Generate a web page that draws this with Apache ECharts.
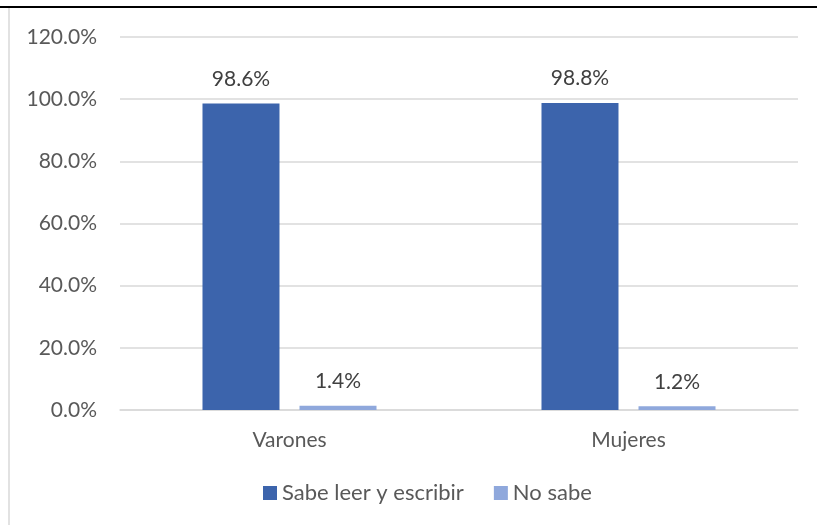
<!DOCTYPE html>
<html><head><meta charset="utf-8">
<script src="https://cdn.jsdelivr.net/npm/echarts@6/dist/echarts.min.js"></script>
<style>html,body{margin:0;padding:0;background:#fff}#c{width:817px;height:525px}</style>
</head><body><div id="c"></div>
<script>
const categories = ['Varones', 'Mujeres'];
const seriesNames = ['Sabe leer y escribir', 'No sabe'];
const sabeLeer = [98.6, 98.8];
const noSabe = [1.4, 1.2];
const yTicks = [0, 20, 40, 60, 80, 100, 120];

const chart = echarts.init(document.getElementById('c'));
const font = 'Lato, "Open Sans", sans-serif';
const lbl = {show: true, position: 'top', distance: 14, color: '#404040', fontSize: 21, fontFamily: font,
  formatter: p => p.value.toFixed(1) + '%'};
chart.setOption({
  animation: false,
  graphic: [
    {type: 'line', shape: {x1: 0, y1: 7, x2: 817, y2: 7}, style: {stroke: '#000', lineWidth: 2}},
    {type: 'line', shape: {x1: 9, y1: 8, x2: 9, y2: 525}, style: {stroke: '#d9d9d9', lineWidth: 1.5}}
  ],
  grid: {left: 120, right: 19, top: 37, bottom: 115, containLabel: false},
  legend: {bottom: 16, left: 258, itemWidth: 14, itemHeight: 14, itemGap: 30, icon: 'rect',
    textStyle: {color: '#595959', fontSize: 22, fontFamily: font}},
  xAxis: {type: 'category', data: categories,
    axisLine: {lineStyle: {color: '#d9d9d9', width: 1.5}}, axisTick: {show: false},
    axisLabel: {color: '#595959', fontSize: 21, fontFamily: font, margin: 20}},
  yAxis: {type: 'value', min: yTicks[0], max: yTicks[yTicks.length - 1], interval: 20,
    axisLine: {show: false}, axisTick: {show: false},
    splitLine: {lineStyle: {color: '#d9d9d9', width: 1.5}},
    axisLabel: {color: '#595959', fontSize: 21, fontFamily: font, margin: 23,
      formatter: v => v.toFixed(1) + '%'}},
  series: [
    {name: seriesNames[0], type: 'bar', data: sabeLeer, barWidth: 77, barGap: '26%',
     itemStyle: {color: '#3c64ac'}, label: lbl},
    {name: seriesNames[1], type: 'bar', data: noSabe, barWidth: 77,
     itemStyle: {color: '#8fa8dc'}, label: lbl}
  ]
});
</script></body></html>
